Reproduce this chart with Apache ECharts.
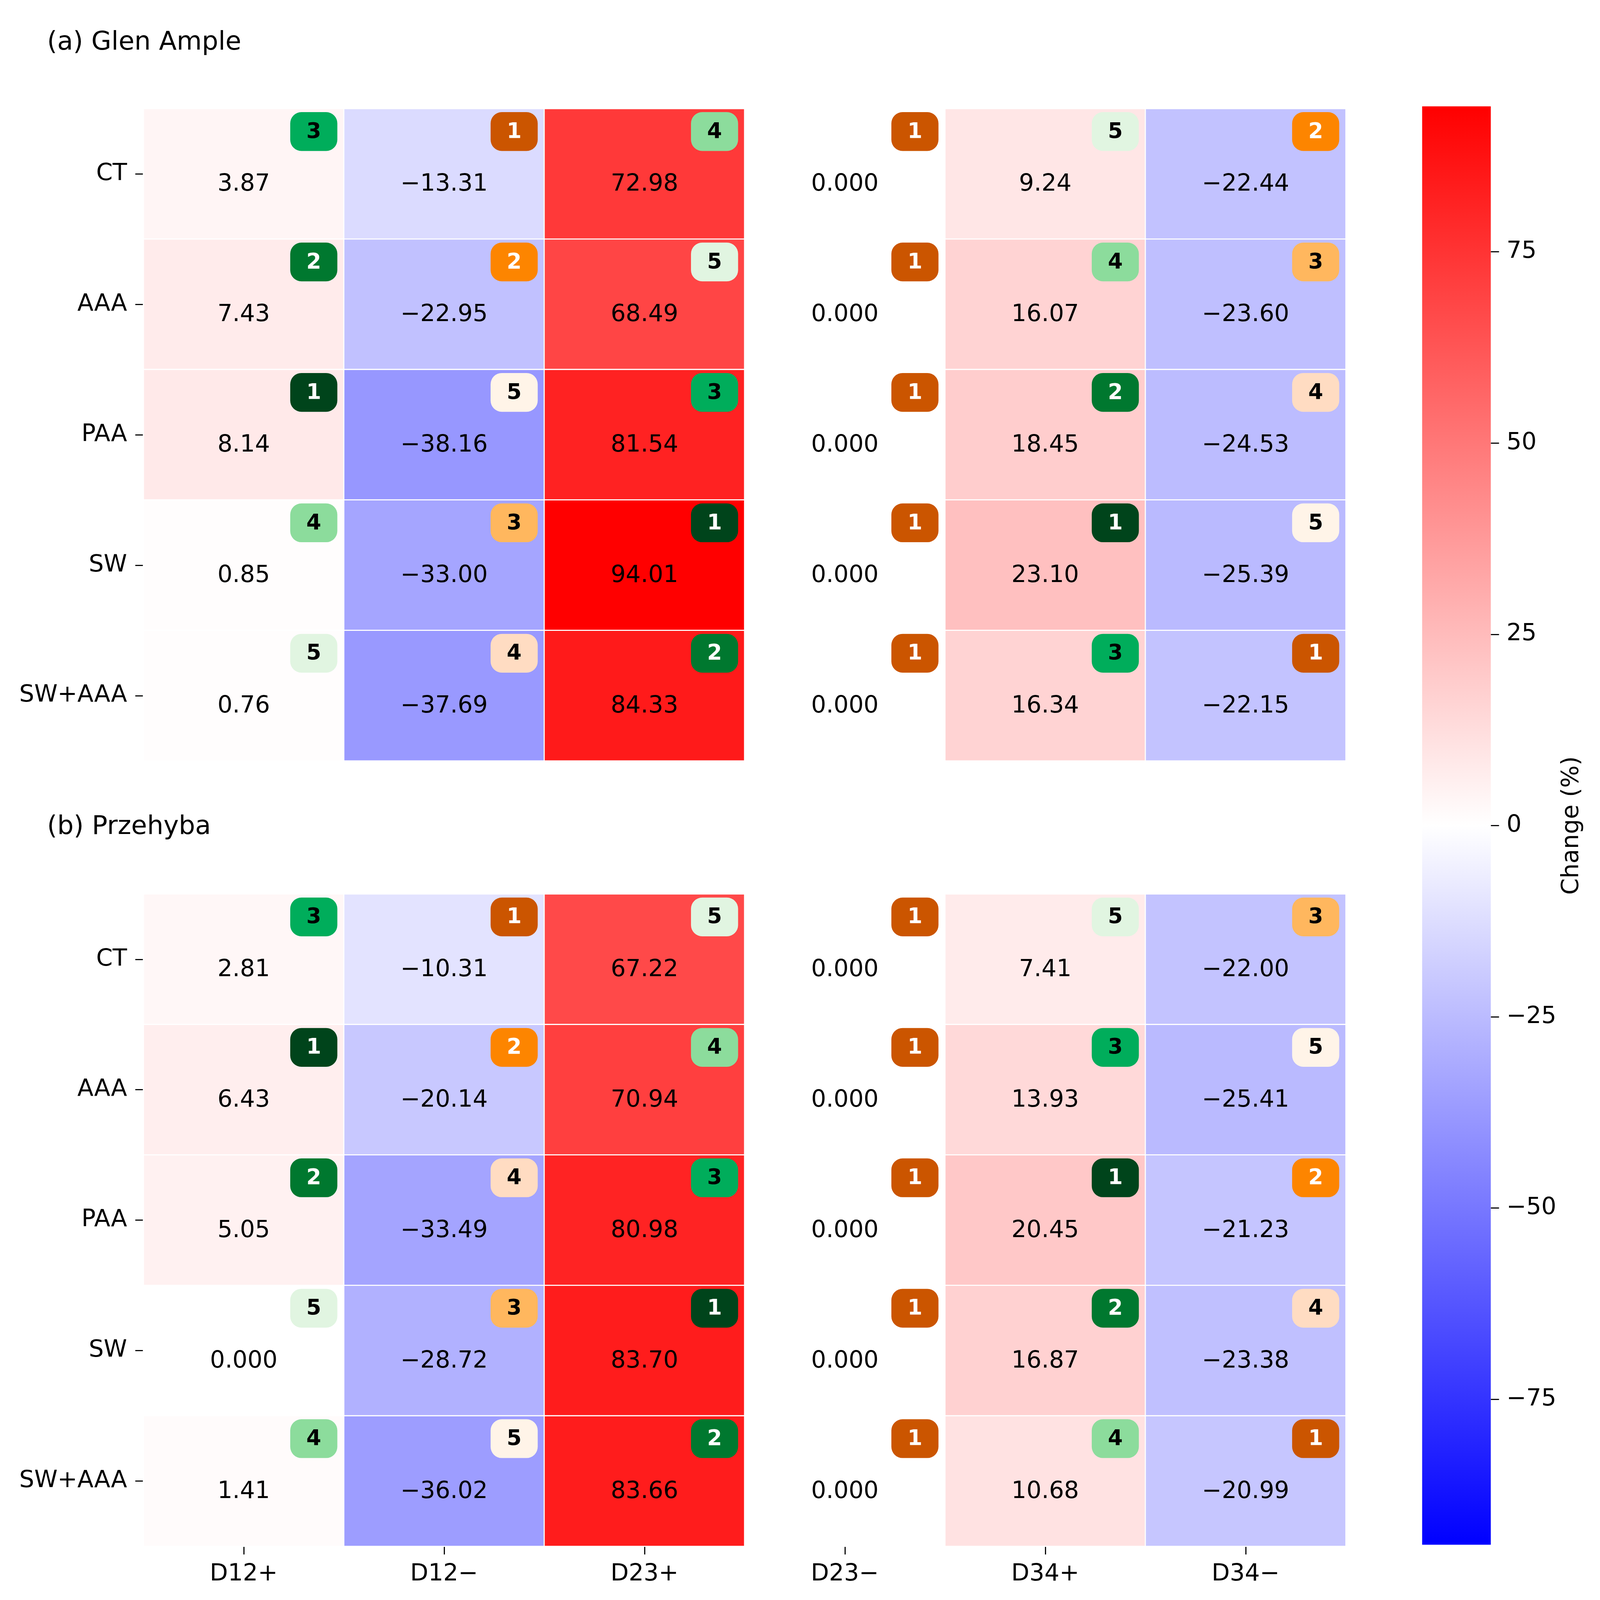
<!DOCTYPE html>
<html>
<head>
<meta charset="utf-8">
<title>Change heatmap</title>
<script src="https://cdn.jsdelivr.net/npm/echarts@6/dist/echarts.min.js"></script>
<style>
  html, body { margin: 0; padding: 0; background: #fff; overflow: hidden; }
  #mountNode { width: 100vw; height: 100vh; }
</style>
</head>
<body>
<div id="mountNode"></div>
<script>
// categories
var columns = ['D12+', 'D12\u2212', 'D23+', 'D23\u2212', 'D34+', 'D34\u2212'];
var treatments = ['CT', 'AAA', 'PAA', 'SW', 'SW+AAA'];

// (a) Glen Ample, one row per treatment
var glenValues = [
  [3.87, -13.31, 72.98, 0, 9.24, -22.44],
  [7.43, -22.95, 68.49, 0, 16.07, -23.60],
  [8.14, -38.16, 81.54, 0, 18.45, -24.53],
  [0.85, -33.00, 94.01, 0, 23.10, -25.39],
  [0.76, -37.69, 84.33, 0, 16.34, -22.15]
];
var glenRanks = [
  [3, 1, 4, 1, 5, 2],
  [2, 2, 5, 1, 4, 3],
  [1, 5, 3, 1, 2, 4],
  [4, 3, 1, 1, 1, 5],
  [5, 4, 2, 1, 3, 1]
];

// (b) Przehyba
var przValues = [
  [2.81, -10.31, 67.22, 0, 7.41, -22.00],
  [6.43, -20.14, 70.94, 0, 13.93, -25.41],
  [5.05, -33.49, 80.98, 0, 20.45, -21.23],
  [0, -28.72, 83.70, 0, 16.87, -23.38],
  [1.41, -36.02, 83.66, 0, 10.68, -20.99]
];
var przRanks = [
  [3, 1, 5, 1, 5, 3],
  [1, 2, 4, 1, 3, 5],
  [2, 4, 3, 1, 1, 2],
  [5, 3, 1, 1, 2, 4],
  [4, 5, 2, 1, 4, 1]
];

// colour bar
var colorLimit = 94.01;
var cbarTicks = [-75, -50, -25, 0, 25, 50, 75];

var FONT = '"DejaVu Sans", "Liberation Sans", sans-serif';
var greenBadge = { 1: '#00441b', 2: '#00782f', 3: '#00ad5b', 4: '#8cdc9c', 5: '#e1f5e1' };
var orangeBadge = { 1: '#cb5500', 2: '#fd8500', 3: '#ffb75e', 4: '#ffdcc2', 5: '#fff4e8' };

// layout is laid out for a 4381 x 4166 page and scaled to the real window
var el = document.getElementById('mountNode');
var W = el.clientWidth || 4381, H = el.clientHeight || 4166;
var sx = W / 4381, sy = H / 4166, sf = Math.sqrt(sx * sy);
function X(v) { return v * sx; }
function Y(v) { return v * sy; }
function F(v) { return v * sf; }

function fmt(v) {
  if (v === 0) return '0.000';
  var s = Math.abs(v).toFixed(2);
  return v < 0 ? '\u2212' + s : s;
}
function minus(v) {
  return v < 0 ? '\u2212' + Math.abs(v) : String(v);
}

function cellData(values) {
  var out = [];
  values.forEach(function (row, r) {
    row.forEach(function (v, c) { out.push([c, r, v]); });
  });
  return out;
}
function badgeData(ranks) {
  var out = [];
  ranks.forEach(function (row, r) {
    row.forEach(function (k, c) { out.push([c, r, k]); });
  });
  return out;
}

function renderBadge(params, api) {
  var col = api.value(0);
  var rank = api.value(2);
  var c = api.coord([col, api.value(1)]);
  var s = api.size([1, 1]);
  var w = X(129), h = Y(101);
  var x = c[0] + Math.abs(s[0]) / 2 - X(18) - w;
  var y = c[1] - Math.abs(s[1]) / 2 + Y(9);
  var pos = columns[col].charAt(columns[col].length - 1) === '+';
  var fill = (pos ? greenBadge : orangeBadge)[rank];
  return {
    type: 'group',
    children: [
      { type: 'rect', shape: { x: x, y: y, width: w, height: h, r: F(30) }, style: { fill: fill } },
      {
        type: 'text',
        style: {
          text: String(rank), x: x + w / 2, y: y + h / 2 + F(2),
          align: 'center', verticalAlign: 'middle',
          fontSize: F(57), fontWeight: 'bold', fontFamily: FONT,
          fill: rank <= 2 ? '#ffffff' : '#000000'
        }
      }
    ]
  };
}

function renderBar(params, api) {
  var top = api.coord([api.value(0), api.value(2)]);
  var bottom = api.coord([api.value(0), api.value(1)]);
  var w = Math.abs(api.size([1, 0])[0]);
  return {
    type: 'rect',
    shape: { x: top[0] - w / 2, y: top[1], width: w, height: bottom[1] - top[1] },
    style: {
      fill: {
        type: 'linear', x: 0, y: 0, x2: 0, y2: 1,
        colorStops: [
          { offset: 0, color: '#ff0000' },
          { offset: 0.5, color: '#ffffff' },
          { offset: 1, color: '#0000ff' }
        ]
      }
    }
  };
}

var tickStyle = { show: true, alignWithLabel: true, length: F(22), lineStyle: { color: '#000', width: F(3) } };
var labelStyle = { color: '#000', fontSize: F(63), fontFamily: FONT, margin: F(44) };

function yCat(grid) {
  return {
    type: 'category', gridIndex: grid, data: treatments, inverse: true,
    axisLine: { show: false }, axisTick: tickStyle, axisLabel: labelStyle,
    splitLine: { show: false }
  };
}

function heatSeries(grid, values) {
  return {
    type: 'heatmap', xAxisIndex: grid, yAxisIndex: grid,
    data: cellData(values),
    itemStyle: { borderColor: '#ffffff', borderWidth: F(3) },
    label: {
      show: true, color: '#000', fontSize: F(63), fontFamily: FONT, offset: [0, Y(28)],
      formatter: function (p) { return fmt(p.value[2]); }
    },
    emphasis: { disabled: true }
  };
}

function badgeSeries(grid, ranks) {
  return {
    type: 'custom', xAxisIndex: grid, yAxisIndex: grid,
    data: badgeData(ranks), renderItem: renderBadge, z: 5, silent: true
  };
}

var titleText = { fontSize: F(69), fontWeight: 'normal', fontFamily: FONT, color: '#000' };

var option = {
  animation: false,
  backgroundColor: '#ffffff',
  title: [
    { text: '(a) Glen Ample', left: X(129), top: Y(78), padding: 0, textStyle: titleText },
    { text: '(b) Przehyba', left: X(129), top: Y(2120), padding: 0, textStyle: titleText }
  ],
  grid: [
    { left: X(393), top: Y(283), width: X(3292), height: Y(1698) },
    { left: X(393), top: Y(2328), width: X(3292), height: Y(1698) },
    { left: X(3894), top: Y(277), width: X(188), height: Y(3745) }
  ],
  xAxis: [
    { type: 'category', gridIndex: 0, data: columns, show: false },
    {
      type: 'category', gridIndex: 1, data: columns,
      axisLine: { show: false }, axisTick: tickStyle, axisLabel: labelStyle,
      splitLine: { show: false }
    },
    { type: 'category', gridIndex: 2, data: [''], show: false }
  ],
  yAxis: [
    yCat(0),
    yCat(1),
    {
      type: 'value', gridIndex: 2, position: 'right',
      min: -colorLimit, max: colorLimit,
      axisLine: { show: false },
      splitLine: { show: false },
      axisTick: { show: true, length: F(22), lineStyle: { color: '#000', width: F(3) }, customValues: cbarTicks },
      axisLabel: {
        color: '#000', fontSize: F(63), fontFamily: FONT, margin: F(42),
        customValues: cbarTicks, formatter: minus
      },
      name: 'Change (%)', nameLocation: 'middle', nameRotate: 90, nameGap: X(190),
      nameTextStyle: { color: '#000', fontSize: F(63), fontFamily: FONT }
    }
  ],
  visualMap: {
    type: 'continuous', show: false, seriesIndex: [0, 1],
    min: -colorLimit, max: colorLimit,
    inRange: { color: ['#0000ff', '#ffffff', '#ff0000'] }
  },
  series: [
    heatSeries(0, glenValues),
    heatSeries(1, przValues),
    badgeSeries(0, glenRanks),
    badgeSeries(1, przRanks),
    {
      type: 'custom', xAxisIndex: 2, yAxisIndex: 2,
      data: [[0, -colorLimit, colorLimit]],
      encode: { x: 0, y: [1, 2] },
      renderItem: renderBar, silent: true
    }
  ]
};

var myChart = echarts.init(el, null, { renderer: 'canvas' });
myChart.setOption(option);
</script>
</body>
</html>
